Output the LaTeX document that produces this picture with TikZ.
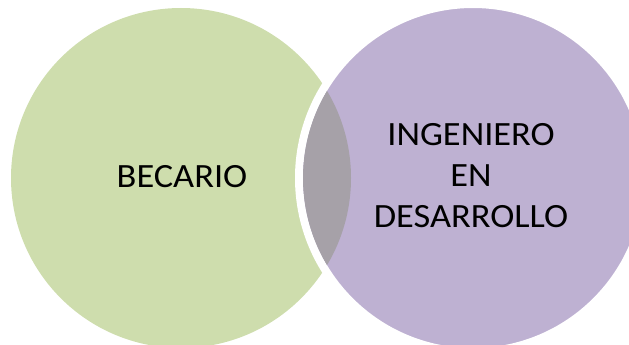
\documentclass[tikz,border=0pt]{standalone}
\usepackage{fontspec}
\setmainfont{Carlito}
\usetikzlibrary{calc}

\definecolor{becariogreen}{RGB}{206,221,173}
\definecolor{ingpurple}{RGB}{190,177,210}
\definecolor{lensgray}{RGB}{166,161,168}

\tikzset{
    bubble/.style={circle, inner sep=0pt},
    label text/.style={align=center, inner sep=0pt, xscale=1.07, transform shape,
                       font=\fontsize{34}{41}\selectfont},
}

\begin{document}
\begin{tikzpicture}[x=1pt, y=-1pt]
    \useasboundingbox (0,0) rectangle (629,345);
    \node[bubble, minimum size=340pt, fill=becariogreen] (becario) at (181,178) {};
    \node[bubble, minimum size=348pt, fill=ingpurple, draw=white, line width=8pt] (ingeniero) at (473,178) {};
    \begin{scope}
        \clip (becario.center) circle (170pt);
        \fill[lensgray] (ingeniero.center) circle (170pt);
    \end{scope}
    \begin{scope}[shift={(182,177)}]
        \node[label text] (becariotext) at (0,0) {BECARIO};
    \end{scope}
    \begin{scope}[shift={(471,176)}]
        \node[label text] (ingtext) at (0,0) {INGENIERO\\EN\\DESARROLLO};
    \end{scope}
\end{tikzpicture}
\end{document}
